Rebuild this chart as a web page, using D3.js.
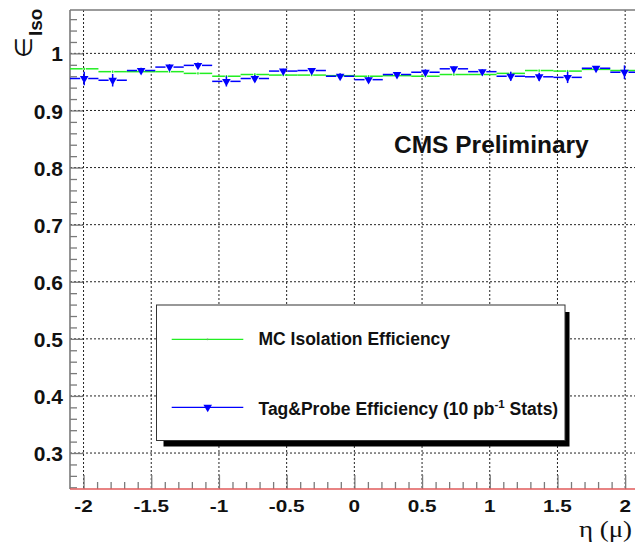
<!DOCTYPE html>
<html><head><meta charset="utf-8">
<script src="https://cdn.jsdelivr.net/npm/d3@7"></script>
<style>body{margin:0;background:#fff}svg{display:block}</style>
</head><body>
<svg id="c" width="635" height="546"></svg>
<script>
// ---- data ----
const etaCenters = [-1.995,-1.785,-1.575,-1.365,-1.155,-0.945,-0.735,-0.525,-0.315,-0.105,
                     0.105, 0.315, 0.525, 0.735, 0.945, 1.155, 1.365, 1.575, 1.785, 1.995];
const binHalfWidth = 0.105;
const mcEff  = [0.973,0.968,0.968,0.968,0.965,0.960,0.963,0.962,0.962,0.961,
                0.960,0.961,0.960,0.963,0.963,0.965,0.970,0.969,0.972,0.970];
const mcErr  = [0.002,0.002,0.002,0.002,0.002,0.002,0.002,0.002,0.002,0.002,
                0.002,0.002,0.002,0.002,0.002,0.002,0.002,0.002,0.002,0.002];
const tpEff  = [0.956,0.953,0.970,0.976,0.979,0.951,0.956,0.969,0.970,0.960,
                0.954,0.963,0.967,0.973,0.968,0.960,0.959,0.958,0.974,0.967];
const tpErr  = [0.012,0.011,0.005,0.005,0.005,0.009,0.006,0.004,0.004,0.005,
                0.005,0.004,0.005,0.004,0.004,0.008,0.007,0.010,0.004,0.012];
const xTicks = [-2,-1.5,-1,-0.5,0,0.5,1,1.5,2];
const xTickLabels = ["-2","-1.5","-1","-0.5","0","0.5","1","1.5","2"];
const yTicks = [0.3,0.4,0.5,0.6,0.7,0.8,0.9,1.0];
const yTickLabels = ["0.3","0.4","0.5","0.6","0.7","0.8","0.9","1"];
const legendLabels = ["MC Isolation Efficiency","Tag&Probe Efficiency (10 pb","-1"," Stats)"];

// ---- layout ----
const svg = d3.select("#c");
const L = 70, T = 10, B = 489, R = 638.7;
const x = d3.scaleLinear([-2.1, 2.1], [L, R]);
const y = d3.scaleLinear([0.237, 1.076], [B, T]);
const sans = "'Liberation Sans', Arial, Helvetica, sans-serif";
const frameCol = "#7a7a7a";

svg.append("rect").attr("width",635).attr("height",546).attr("fill","#fff");

// grid
const grid = svg.append("g").attr("stroke","#222").attr("stroke-width",1).attr("stroke-dasharray","2,2");
grid.selectAll("line.gx").data(xTicks).join("line")
  .attr("x1",d=>x(d)).attr("x2",d=>x(d)).attr("y1",T).attr("y2",B);
grid.selectAll("line.gy").data(yTicks).join("line")
  .attr("x1",L).attr("x2",R).attr("y1",d=>y(d)).attr("y2",d=>y(d));

// y axis ticks (inward)
const yMinor = d3.range(0.24, 1.0761, 0.02).filter(v => !yTicks.some(t=>Math.abs(t-v)<1e-6));
const yAxMinor = svg.append("g").attr("transform",`translate(${L},0)`)
  .call(d3.axisLeft(y).tickValues(yMinor).tickSize(-7).tickFormat(""));
const yAx = svg.append("g").attr("transform",`translate(${L},0)`)
  .call(d3.axisLeft(y).tickValues(yTicks).tickSize(-13).tickPadding(7)
        .tickFormat((d,i)=>yTickLabels[i]));
[yAx,yAxMinor].forEach(g=>{g.select(".domain").remove();
  g.selectAll("line").attr("stroke",frameCol).attr("stroke-width",1.3);});
yAx.selectAll("text").attr("font-family",sans).attr("font-weight","bold")
  .attr("font-size",21).attr("fill","#111").attr("dy","0.36em");

// x axis ticks (inward)
const xMinor = d3.range(-2.1, 2.101, 0.1).filter(v => !xTicks.some(t=>Math.abs(t-v)<1e-6) && v>-2.09);
const xAxMinor = svg.append("g").attr("transform",`translate(0,${B})`)
  .call(d3.axisBottom(x).tickValues(xMinor).tickSize(-7).tickFormat(""));
const xAx = svg.append("g").attr("transform",`translate(0,${B})`)
  .call(d3.axisBottom(x).tickValues(xTicks).tickSize(-14).tickFormat(""));
[xAx,xAxMinor].forEach(g=>{g.select(".domain").remove();
  g.selectAll("line").attr("stroke",frameCol).attr("stroke-width",1.3);});
svg.append("g").selectAll("text").data(xTicks).join("text")
  .attr("transform",d=>`translate(${x(d)},512) scale(1.22,1)`)
  .attr("text-anchor","middle").attr("font-family",sans).attr("font-weight","bold")
  .attr("font-size",17).attr("fill","#111").text((d,i)=>xTickLabels[i]);

// frame
svg.append("line").attr("x1",L).attr("x2",L).attr("y1",T).attr("y2",B)
  .attr("stroke",frameCol).attr("stroke-width",1.6);
svg.append("line").attr("x1",L).attr("x2",635).attr("y1",T).attr("y2",T)
  .attr("stroke",frameCol).attr("stroke-width",1.6);
svg.append("line").attr("x1",L).attr("x2",635).attr("y1",B).attr("y2",B)
  .attr("stroke","#e05a5a").attr("stroke-width",1.6);

// ---- MC series (green) ----
const green = "#22ee22", blue = "#0000ff";
const gMC = svg.append("g").attr("stroke",green).attr("stroke-width",1.5);
etaCenters.forEach((c,i)=>{
  const yy = y(mcEff[i]);
  gMC.append("line").attr("x1",x(c-binHalfWidth)).attr("x2",x(c)-1.5).attr("y1",yy).attr("y2",yy);
  gMC.append("line").attr("x1",x(c)+1.5).attr("x2",x(c+binHalfWidth)).attr("y1",yy).attr("y2",yy);
  gMC.append("line").attr("x1",x(c)).attr("x2",x(c)).attr("y1",y(mcEff[i]+mcErr[i])).attr("y2",y(mcEff[i]-mcErr[i]));
});

// ---- Tag&Probe series (blue) ----
const tri = d3.symbol().type(d3.symbolTriangle).size(32);
const gTP = svg.append("g");
etaCenters.forEach((c,i)=>{
  const yy = y(tpEff[i]), xc = x(c);
  gTP.append("line").attr("x1",x(c-binHalfWidth)).attr("x2",xc-4).attr("y1",yy).attr("y2",yy)
    .attr("stroke",blue).attr("stroke-width",1.5);
  gTP.append("line").attr("x1",xc+4).attr("x2",x(c+binHalfWidth)).attr("y1",yy).attr("y2",yy)
    .attr("stroke",blue).attr("stroke-width",1.5);
  gTP.append("line").attr("x1",xc).attr("x2",xc).attr("y1",y(tpEff[i]+tpErr[i])).attr("y2",y(tpEff[i]-tpErr[i]))
    .attr("stroke",blue).attr("stroke-width",1.5);
  gTP.append("path").attr("d",tri).attr("transform",`translate(${xc},${yy}) rotate(180)`).attr("fill",blue);
});

// ---- CMS Preliminary ----
svg.append("text").attr("x",394).attr("y",153).attr("font-family",sans).attr("font-weight","bold")
  .attr("font-size",24.5).attr("fill","#111").text("CMS Preliminary");

// ---- legend ----
const lg = svg.append("g");
lg.append("rect").attr("x",163.5).attr("y",312).attr("width",406).attr("height",134.5).attr("fill","#000");
lg.append("rect").attr("x",156.5).attr("y",305).attr("width",408.5).attr("height",135.5)
  .attr("fill","#fff").attr("stroke","#333").attr("stroke-width",1);
lg.append("line").attr("x1",171.7).attr("x2",243.3).attr("y1",339.3).attr("y2",339.3)
  .attr("stroke",green).attr("stroke-width",1.3);
lg.append("circle").attr("cx",207.5).attr("cy",339.3).attr("r",0.9).attr("fill","#6a6");
lg.append("line").attr("x1",171.7).attr("x2",243.3).attr("y1",407.3).attr("y2",407.3)
  .attr("stroke",blue).attr("stroke-width",1.3);
lg.append("path").attr("d",tri).attr("transform","translate(207.7,407.3) rotate(180)").attr("fill",blue);
lg.append("text").attr("x",258.5).attr("y",344.5).attr("font-family",sans).attr("font-weight","bold")
  .attr("font-size",17.5).attr("fill","#111").text(legendLabels[0]);
const t2 = lg.append("text").attr("x",258.5).attr("y",414.5).attr("font-family",sans).attr("font-weight","bold")
  .attr("font-size",17.5).attr("fill","#111");
t2.append("tspan").text(legendLabels[1]);
t2.append("tspan").attr("dy",-7).attr("font-size",11.5).text(legendLabels[2]);
t2.append("tspan").attr("dy",7).text(legendLabels[3]);

// ---- axis titles ----
const yt = svg.append("text").attr("transform","translate(32,58) rotate(-90)")
  .attr("fill","#111");
yt.append("tspan").attr("font-family","'DejaVu Sans', sans-serif").attr("font-size",24).text("∈");
yt.append("tspan").attr("dy",10).attr("dx",1).attr("font-family",sans).attr("font-weight","bold")
  .attr("font-size",19).text("Iso");

svg.append("text").attr("transform","translate(632,537) scale(1.12,1)")
  .attr("text-anchor","end")
  .attr("font-family","'Liberation Serif', 'Times New Roman', serif").attr("font-size",24)
  .attr("fill","#111").text("η (μ)");
</script>
</body></html>
